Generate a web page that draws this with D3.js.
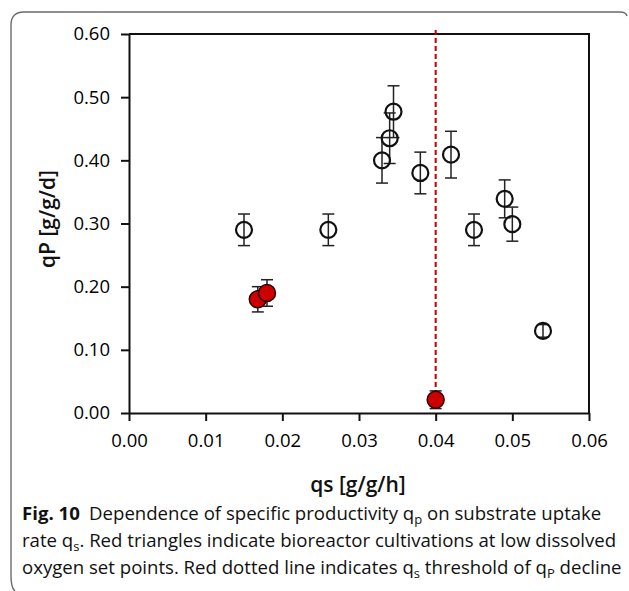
<!DOCTYPE html>
<html>
<head>
<meta charset="utf-8">
<script src="https://cdn.jsdelivr.net/npm/d3@7"></script>
<style>
  body { margin: 0; background: #fff; }
  svg { display: block; }
  .tick text { font-family: "Open Sans", sans-serif; font-size: 18.5px; fill: #000; }
  .axis-title { font-family: "Open Sans", sans-serif; font-size: 21px; font-weight: 600; fill: #111; }
  .caption { font-family: "Open Sans", sans-serif; fill: #111; }
</style>
</head>
<body>
<script>
// open circles: normal cultivations
var qs    = [0.015, 0.026, 0.033, 0.034, 0.0345, 0.038, 0.042, 0.045, 0.049, 0.050, 0.054];
var qp    = [0.29, 0.29, 0.40, 0.435, 0.477, 0.38, 0.409, 0.29, 0.339, 0.299, 0.13];
var qpErr = [0.025, 0.025, 0.036, 0.04, 0.041, 0.033, 0.037, 0.025, 0.03, 0.027, 0.01];

// red filled: low dissolved oxygen set points
var lowQs  = [0.0168, 0.018, 0.040];
var lowQp  = [0.18, 0.19, 0.021];
var lowErr = [0.02, 0.021, 0.014];

var threshold = 0.04;
var xTicks = [0, 0.01, 0.02, 0.03, 0.04, 0.05, 0.06];
var yTicks = [0, 0.1, 0.2, 0.3, 0.4, 0.5, 0.6];

var svgWidth = 629, svgHeight = 591,
    margin = {top: 34, right: 40, bottom: 178, left: 129};
var width = svgWidth - margin.left - margin.right,
    height = svgHeight - margin.top - margin.bottom;

var svg = d3.select("body").append("svg")
    .attr("width", svgWidth)
    .attr("height", svgHeight);

// figure frame (rounded on the left)
svg.append("path")
    .attr("d", "M627,16 Q626,12 620,12 H24 Q11,12 11,25 V576 Q11,588 15,591")
    .attr("fill", "none")
    .attr("stroke", "#6b6b6b")
    .attr("stroke-width", 1.4);

var chart = svg.append("g")
    .attr("transform", "translate(" + margin.left + "," + margin.top + ")");

var x = d3.scaleLinear().domain([0, 0.06]).range([0, width]);
var y = d3.scaleLinear().domain([0, 0.6]).range([height, 0]);

// box top and right
chart.append("path")
    .attr("d", "M0,0 H" + width + " V" + height)
    .attr("fill", "none")
    .attr("stroke", "#111")
    .attr("stroke-width", 2);

var xAxis = chart.append("g")
    .attr("transform", "translate(0," + height + ")")
    .call(d3.axisBottom(x).tickValues(xTicks).tickFormat(d3.format(".2f"))
        .tickSizeInner(8).tickSizeOuter(0).tickPadding(13));

var yAxis = chart.append("g")
    .call(d3.axisLeft(y).tickValues(yTicks).tickFormat(d3.format(".2f"))
        .tickSizeInner(8).tickSizeOuter(0).tickPadding(11));

[xAxis, yAxis].forEach(function(a) {
  a.select(".domain").attr("stroke", "#111").attr("stroke-width", 2);
  a.selectAll(".tick line").attr("stroke", "#111").attr("stroke-width", 2);
});

// threshold line
chart.append("line")
    .attr("x1", x(threshold)).attr("x2", x(threshold))
    .attr("y1", -4).attr("y2", y(lowQp[2]))
    .attr("stroke", "#c00000")
    .attr("stroke-width", 2)
    .attr("stroke-dasharray", "5,3");

function errorBars(xs, ys, es) {
  var g = chart.append("g")
      .attr("stroke", "#222")
      .attr("stroke-width", 1.5);
  xs.forEach(function(v, i) {
    var cx = x(v), top = y(ys[i] + es[i]), bot = y(ys[i] - es[i]);
    g.append("line").attr("x1", cx).attr("x2", cx).attr("y1", top).attr("y2", bot);
    g.append("line").attr("x1", cx - 6).attr("x2", cx + 6).attr("y1", top).attr("y2", top);
    g.append("line").attr("x1", cx - 6).attr("x2", cx + 6).attr("y1", bot).attr("y2", bot);
  });
}

errorBars(qs, qp, qpErr);
errorBars(lowQs, lowQp, lowErr);

chart.selectAll(".open").data(qs).enter()
  .append("circle")
    .attr("class", "open")
    .attr("cx", function(d) { return x(d); })
    .attr("cy", function(d, i) { return y(qp[i]); })
    .attr("r", 8)
    .attr("fill", "none")
    .attr("stroke", "#111")
    .attr("stroke-width", 2.2);

chart.selectAll(".low").data(lowQs).enter()
  .append("circle")
    .attr("class", "low")
    .attr("cx", function(d) { return x(d); })
    .attr("cy", function(d, i) { return y(lowQp[i]); })
    .attr("r", 8.5)
    .attr("fill", "#cc0000")
    .attr("stroke", "#2a0000")
    .attr("stroke-width", 1.5);

// axis titles
svg.append("text")
    .attr("class", "axis-title")
    .attr("transform", "translate(55,219) rotate(-90)")
    .attr("text-anchor", "middle")
    .text("qP [g/g/d]");

svg.append("text")
    .attr("class", "axis-title")
    .attr("x", 358).attr("y", 492)
    .attr("text-anchor", "middle")
    .text("qs [g/g/h]");

// caption
var lines = [
  [{t: "Fig. 10", b: 1}, {t: "\u2002Dependence of specific productivity q"}, {t: "p", s: 1}, {t: " on substrate uptake"}],
  [{t: "rate q"}, {t: "s", s: 1}, {t: ". Red triangles indicate bioreactor cultivations at low dissolved"}],
  [{t: "oxygen set points. Red dotted line indicates q"}, {t: "s", s: 1}, {t: " threshold of q"}, {t: "P", s: 1}, {t: " decline"}]
];
var baselines = [520, 547, 574];
var fs = 16;

var texts = lines.map(function(segs, li) {
  var t = svg.append("text")
      .attr("class", "caption")
      .attr("x", 22).attr("y", baselines[li])
      .style("font-size", fs + "px");
  segs.forEach(function(s, k) {
    var ts = t.append("tspan").text(s.t);
    if (s.b) ts.attr("font-weight", 700);
    if (s.s) ts.attr("dy", 4).style("font-size", "0.7em");
    else if (k > 0 && segs[k - 1].s) ts.attr("dy", -4);
  });
  return t;
});

// fit the longest line to the frame width
var w = texts[2].node().getComputedTextLength();
var scale = 600 / w;
texts.forEach(function(t) { t.style("font-size", (fs * scale) + "px"); });
</script>
</body>
</html>
